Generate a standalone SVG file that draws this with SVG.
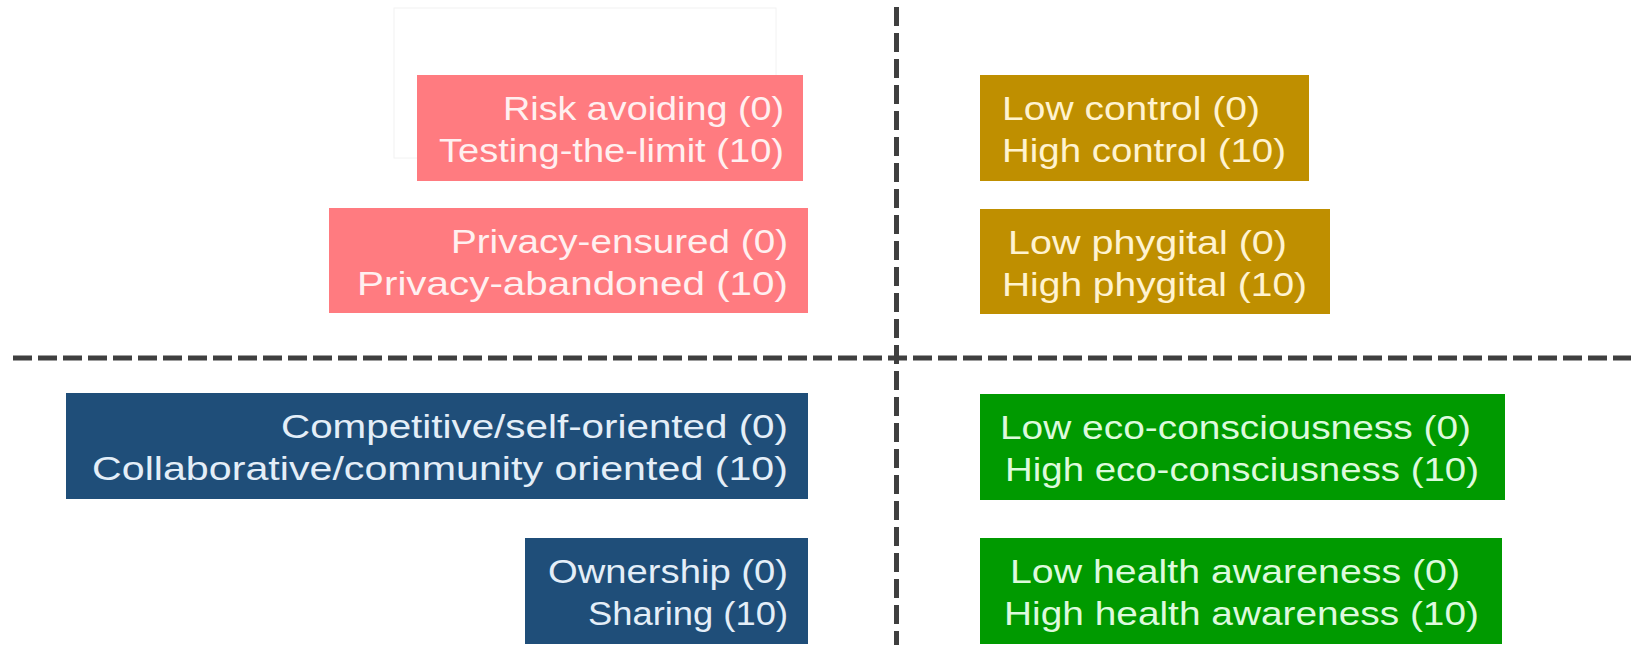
<svg xmlns="http://www.w3.org/2000/svg" width="1631" height="645" viewBox="0 0 1631 645">
<style>
  text { font-family: "Liberation Sans", Arial, sans-serif; font-size: 33px; }
  .pink rect { fill: #FF7B80; }
  .pink text { fill: #FFF0F0; }
  .gold rect { fill: #BF8F00; }
  .gold text { fill: #FFF3D0; }
  .blue rect { fill: #1F4E79; }
  .blue text { fill: #E4EEF8; }
  .green rect { fill: #009A00; }
  .green text { fill: #DDFADD; }
  .r text { text-anchor: end; }
  .axis { stroke: #3F3F3F; stroke-width: 5; stroke-dasharray: 19 6; fill: none; }
</style>
<rect width="1631" height="645" fill="#FFFFFF"/>
<rect x="394" y="8" width="382" height="150" fill="none" stroke="#F2F2F2" stroke-width="1"/>
<g id="connectors">
  <line class="axis" x1="13" y1="358" x2="1631" y2="358"/>
  <line class="axis" x1="896.5" y1="7" x2="896.5" y2="645" style="stroke-dasharray: 19 7"/>
</g>
<g id="risk" class="pink r">
  <rect x="417" y="75" width="386" height="106"/>
  <text x="784" y="120" textLength="281" lengthAdjust="spacingAndGlyphs">Risk avoiding (0)</text>
  <text x="784" y="162" textLength="345" lengthAdjust="spacingAndGlyphs">Testing-the-limit (10)</text>
</g>
<g id="privacy" class="pink r">
  <rect x="329" y="208" width="479" height="105"/>
  <text x="788" y="253" textLength="337" lengthAdjust="spacingAndGlyphs">Privacy-ensured (0)</text>
  <text x="788" y="295" textLength="431" lengthAdjust="spacingAndGlyphs">Privacy-abandoned (10)</text>
</g>
<g id="control" class="gold">
  <rect x="980" y="75" width="329" height="106"/>
  <text x="1002" y="120" textLength="258" lengthAdjust="spacingAndGlyphs">Low control (0)</text>
  <text x="1002" y="162" textLength="284" lengthAdjust="spacingAndGlyphs">High control (10)</text>
</g>
<g id="phygital" class="gold">
  <rect x="980" y="209" width="350" height="105"/>
  <text x="1008" y="254" textLength="279" lengthAdjust="spacingAndGlyphs">Low phygital (0)</text>
  <text x="1002" y="296" textLength="305" lengthAdjust="spacingAndGlyphs">High phygital (10)</text>
</g>
<g id="community" class="blue r">
  <rect x="66" y="393" width="742" height="106"/>
  <text x="788" y="438" textLength="507" lengthAdjust="spacingAndGlyphs">Competitive/self-oriented (0)</text>
  <text x="788" y="480" textLength="696" lengthAdjust="spacingAndGlyphs">Collaborative/community oriented (10)</text>
</g>
<g id="ownership" class="blue r">
  <rect x="525" y="538" width="283" height="106"/>
  <text x="788" y="583" textLength="240" lengthAdjust="spacingAndGlyphs">Ownership (0)</text>
  <text x="788" y="625" textLength="200" lengthAdjust="spacingAndGlyphs">Sharing (10)</text>
</g>
<g id="eco" class="green">
  <rect x="980" y="394" width="525" height="106"/>
  <text x="1000" y="439" textLength="471" lengthAdjust="spacingAndGlyphs">Low eco-consciousness (0)</text>
  <text x="1005" y="481" textLength="474" lengthAdjust="spacingAndGlyphs">High eco-consciusness (10)</text>
</g>
<g id="health" class="green">
  <rect x="980" y="538" width="522" height="106"/>
  <text x="1010" y="583" textLength="450" lengthAdjust="spacingAndGlyphs">Low health awareness (0)</text>
  <text x="1004" y="625" textLength="475" lengthAdjust="spacingAndGlyphs">High health awareness (10)</text>
</g>
</svg>
